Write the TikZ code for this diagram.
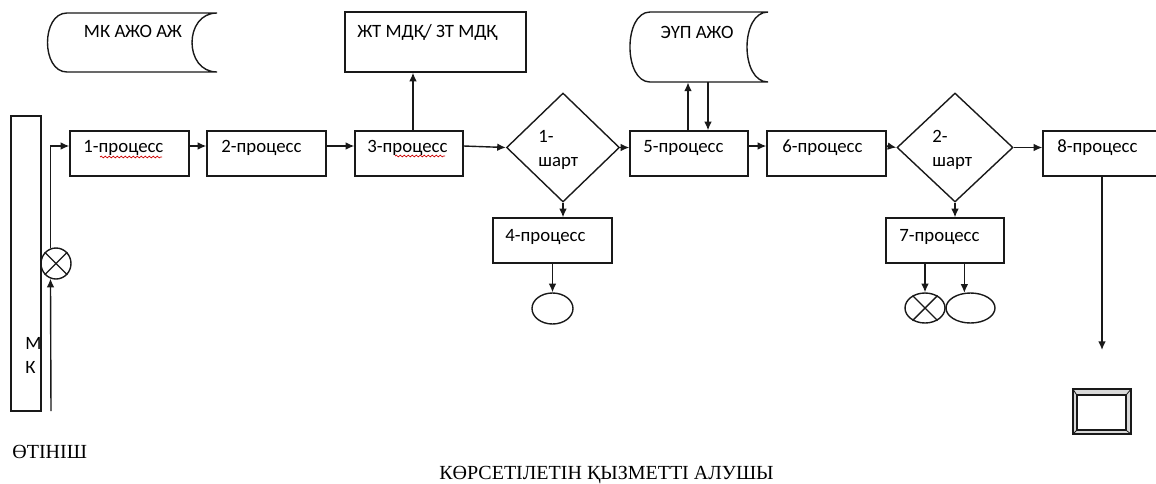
\documentclass[tikz,border=0pt]{standalone}
\usepackage{fontspec}
\setmainfont{Liberation Serif}
\newfontfamily\calfont{Carlito}
\usetikzlibrary{arrows.meta,shapes.geometric,decorations.pathmorphing}
\tikzset{
  ln/.style={line width=0.7pt, draw=black!90},
  arr/.style={ln, -{Latex[length=4.3pt,width=3.8pt]}},
  box/.style={ln, rectangle, inner sep=0pt, minimum height=22.5pt},
  ptxt/.style={font=\calfont\fontsize{9.4}{12}\selectfont, inner sep=0pt, anchor=west, align=left},
  dia/.style={ln, diamond, inner sep=0pt},
  oval/.style={ln, ellipse, inner sep=0pt},
  spell/.style={draw=red!80!black, line width=0.35pt, decorate, decoration={snake, segment length=2pt, amplitude=0.45pt}},
  serif/.style={font=\fontsize{10}{12}\selectfont, inner sep=0pt}
}
\begin{document}
\begin{tikzpicture}[x=0.5pt,y=-0.5pt]
\useasboundingbox (0,0) rectangle (1156,483);
\coordinate (row) at (0,146);

% storage shapes
\draw[ln] (67,13) -- (217,13) .. controls (183.7,13) and (183.7,72) .. (217,72) -- (67,72) .. controls (41,72) and (41,13) .. (67,13);
\node[ptxt, anchor=center] (st1txt) at (133,31) {МК АЖО АЖ};
\draw[ln] (650,12) -- (768,12) .. controls (740,12) and (740,82) .. (768,82) -- (650,82) .. controls (623.3,82) and (623.3,12) .. (650,12);
\node[inner sep=0pt, minimum width=69pt, minimum height=35pt] (st2) at (699,47) {};
\node[ptxt, anchor=center] (st2txt) at (697,32) {ЭҮП АЖО};

% top rectangle
\node[box, minimum width=90.5pt, minimum height=30pt] (jt) at (435.5,42) {};
\node[ptxt] (jttxt) at (357,32) {ЖТ МДҚ/ ЗТ МДҚ};

% MK tall rectangle
\node[box, minimum width=15pt, minimum height=147.5pt] (mk) at (26,263.5) {};
\node[ptxt] (mktxt) at (25,355) {М\\К};

% process boxes
\node[box, minimum width=59.5pt] (p1) at (129.5,153.5) {};
\node[ptxt] (t1) at (83,148) {1-процесс};
\node[box, minimum width=59.5pt] (p2) at (266.5,153.5) {};
\node[ptxt] (t2) at (221,148) {2-процесс};
\node[box, minimum width=54pt] (p3) at (409,153.5) {};
\node[ptxt] (t3) at (367,148) {3-процесс};
\node[box, minimum width=59pt] (p5) at (689,153.5) {};
\node[ptxt] (t5) at (643,148) {5-процесс};
\node[box, minimum width=59.5pt] (p6) at (826.5,153.5) {};
\node[ptxt] (t6) at (782,148) {6-процесс};
\node[box, minimum width=60pt] (p8) at (1103,153.5) {};
\node[ptxt] (t8) at (1057,148) {8-процесс};
\node[box, minimum width=59.5pt] (p4) at (552.5,240.5) {};
\node[ptxt] (t4) at (505,237) {4-процесс};
\node[box, minimum width=59pt] (p7) at (945,240.5) {};
\node[ptxt] (t7) at (899,237) {7-процесс};

% spell-check squiggles
\draw[spell] (100,157) -- (162,157);
\draw[spell] (395,156) -- (445,156);

% diamonds
\node[dia, minimum width=56.5pt, minimum height=54.5pt] (d1) at (563,147.5) {};
\node[ptxt] (d1txt) at (538,150) {1-\\шарт};
\node[dia, minimum width=58pt, minimum height=54.5pt] (d2) at (955,147.5) {};
\node[ptxt] (d2txt) at (932,150) {2-\\шарт};

% circles / ellipses
\node[oval, minimum width=15pt, minimum height=15.5pt] (cx) at (56,263.5) {};
\draw[ln] (cx.45) -- (cx.225) (cx.135) -- (cx.315);
\node[oval, minimum width=20.5pt, minimum height=15.5pt] (e1) at (552.5,308.5) {};
\node[oval, minimum width=20pt, minimum height=15pt] (cx2) at (925,308) {};
\draw[ln] (cx2.45) -- (cx2.225) (cx2.135) -- (cx2.315);
\node[oval, minimum width=24.5pt, minimum height=15pt] (e2) at (970.5,308) {};

% bevel frame
\node[ln, rectangle, inner sep=0pt, minimum width=29pt, minimum height=22.5pt, fill=gray!30] (bv) at (1102,411.5) {};
\node[ln, rectangle, inner sep=0pt, minimum width=24.5pt, minimum height=17.5pt, fill=white] (bvi) at (1101.5,412.5) {};
\draw[ln, line width=0.4pt] (bv.north west) -- (bvi.north west) (bv.north east) -- (bvi.north east)
  (bv.south west) -- (bvi.south west) (bv.south east) -- (bvi.south east);

% connectors
\coordinate (c0) at (51,411);
\draw[arr] (c0) -- (cx.250);
\draw[arr] (cx.110) |- (p1.west |- row);
\draw[arr] (p1.east |- row) -- (p2.west |- row);
\draw[arr] (p2.east |- row) -- (p3.west |- row);
\draw[arr] ([xshift=2pt]p3.north) -- ([xshift=2pt]p3.north |- jt.south);
\draw[arr] (p3.east |- row) -- (d1.west);
\draw[arr] (d1.east) -- (p5.west |- d1.east);
\draw[arr] ([xshift=-0.5pt]p5.north) -- ([xshift=-0.5pt]p5.north |- st2.south);
\draw[arr] ([xshift=9.5pt]p5.north |- st2.south) -- ([xshift=9.5pt]p5.north);
\draw[arr] (p5.east |- row) -- (p6.west |- row);
\draw[arr] (p6.east |- row) -- (d2.west);
\draw[arr] (d2.east) -- (p8.west |- d2.east);
\draw[arr] (d1.south) -- (d1.south |- p4.north);
\draw[arr] (e1.north |- p4.south) -- (e1.north);
\draw[arr] (d2.south) -- (d2.south |- p7.north);
\draw[arr] (cx2.north |- p7.south) -- (cx2.north);
\draw[arr] (e2.112 |- p7.south) -- (e2.112);
\coordinate (a8) at (1102,350);
\draw[arr] (p8.south -| a8) -- (a8);

% bottom texts
\node[serif, anchor=west] (ot) at (12,452) {ӨТІНІШ};
\node[serif] (kq) at (606.5,475) {КӨРСЕТІЛЕТІН ҚЫЗМЕТТІ АЛУШЫ};
\end{tikzpicture}
\end{document}
